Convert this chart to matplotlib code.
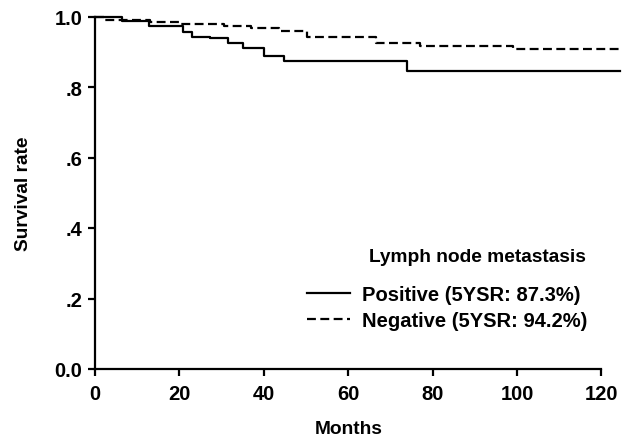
import matplotlib
matplotlib.use("Agg")
import matplotlib.pyplot as plt

plt.rcParams['font.family'] = ['Liberation Sans', 'DejaVu Sans']
plt.rcParams['font.weight'] = 'bold'

# Kaplan-Meier step data (months, survival)
pos_months = [0, 6.5, 12.9, 20.8, 22.9, 27.3, 31.4, 35.1, 40.0, 44.8, 74.0, 124.4]
pos_surv = [1.0, 0.988, 0.974, 0.957, 0.943, 0.938, 0.924, 0.910, 0.888, 0.873, 0.846, 0.846]

neg_months = [0, 2.4, 13.0, 20.0, 30.5, 37.0, 43.6, 50.2, 66.7, 77.0, 99.0, 124.4]
neg_surv = [1.0, 0.990, 0.984, 0.979, 0.974, 0.966, 0.959, 0.942, 0.924, 0.917, 0.909, 0.909]

pos_label = "Positive (5YSR: 87.3%)"
neg_label = "Negative (5YSR: 94.2%)"
legend_title = "Lymph node metastasis"

xticks = [0, 20, 40, 60, 80, 100, 120]
yticks = [0.0, 0.2, 0.4, 0.6, 0.8, 1.0]
yticklabels = ["0.0", ".2", ".4", ".6", ".8", "1.0"]

fs_tick = 14.5
fs = 13.8
fs_leg = 14.5
fig = plt.figure(figsize=(6.32, 4.39), dpi=100)
ax = fig.add_axes([95/632, 69/439, 527.5/632, 352.5/439])

ax.step(pos_months, pos_surv, where='post', color='black', lw=1.6,
        label=pos_label, clip_on=False)
ax.step(neg_months, neg_surv, where='post', color='black', lw=1.6,
        dashes=(4, 2), label=neg_label, clip_on=False)

ax.set_xlim(0, 125)
ax.set_ylim(0, 1.0)
ax.spines['top'].set_visible(False)
ax.spines['right'].set_visible(False)
ax.spines['left'].set_bounds(0, 1.0)
ax.spines['bottom'].set_bounds(0, 120)
for s in ('left', 'bottom'):
    ax.spines[s].set_linewidth(1.6)
ax.set_xticks(xticks)
ax.set_xticklabels([str(t) for t in xticks], fontsize=fs_tick, fontweight='bold')
ax.set_yticks(yticks)
ax.set_yticklabels(yticklabels, fontsize=fs_tick, fontweight='bold')
ax.tick_params(axis='x', direction='out', length=5, width=1.6, pad=6)
ax.tick_params(axis='y', direction='out', length=5, width=1.6, pad=4)

ax.set_xlabel("Months", fontsize=fs, fontweight='bold')
ax.xaxis.set_label_coords(60/125, -0.145)
ax.set_ylabel("Survival rate", fontsize=fs, fontweight='bold')
ax.yaxis.set_label_coords(-0.119, 0.5)

leg = ax.legend(frameon=False, fontsize=fs_leg,
                loc='lower right', bbox_to_anchor=(587/632, 108/439),
                bbox_transform=fig.transFigure, borderpad=0, borderaxespad=0,
                handlelength=2.1, handletextpad=0.6, labelspacing=0.35)
for t in leg.get_texts():
    t.set_fontweight('bold')
fig.text(586/632, 1 - 258/439, legend_title, fontsize=fs, fontweight='bold',
         ha='right', va='center')

fig.savefig("out.png", dpi=100)
